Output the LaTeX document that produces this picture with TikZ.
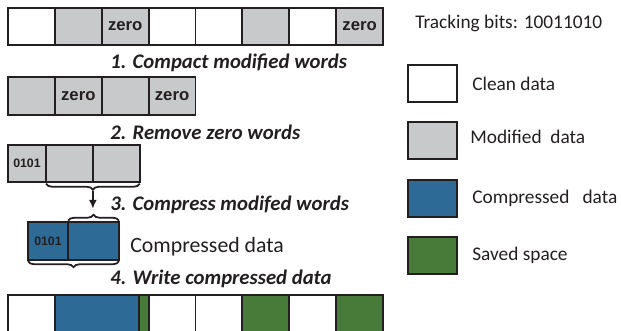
\documentclass[tikz,border=0pt]{standalone}
\usepackage{fontspec}
\setmainfont{Carlito}
\newfontfamily\cellfont{Liberation Sans}
\usepackage{tikz}
\usetikzlibrary{arrows.meta,calc,positioning,decorations.pathreplacing}
\definecolor{figline}{RGB}{35,31,32}
\definecolor{figmod}{RGB}{200,201,203}
\definecolor{figcomp}{RGB}{46,106,150}
\definecolor{figsaved}{RGB}{72,123,58}
\tikzset{
  cell/.style   ={draw=figline, line width=1.1pt, minimum width=0.9375cm, minimum height=0.75cm, inner sep=0pt, outer sep=0pt},
  cleanc/.style ={cell, fill=white},
  modc/.style   ={cell, fill=figmod},
  compc/.style  ={cell, fill=figcomp},
  savedc/.style ={cell, fill=figsaved},
  wordlab/.style={font=\cellfont\bfseries\fontsize{9.5}{11}\selectfont, text=figline},
  bitlab/.style ={font=\cellfont\bfseries\fontsize{7}{8}\selectfont, text=figline},
  steplab/.style={font=\bfseries\itshape\fontsize{11.8}{13}\selectfont, text=figline, anchor=west, inner sep=0pt},
  txt/.style    ={font=\fontsize{11}{13}\selectfont, text=figline, inner sep=0pt},
  brc/.style    ={draw=figline, line width=1pt, decorate, decoration={brace, amplitude=0.12cm, raise=0.03cm}},
  ptr/.style    ={draw=figline, line width=1pt, -{Latex[length=5pt,width=4.5pt]}},
}
\begin{document}
\begin{tikzpicture}
  \useasboundingbox (0,0) rectangle (12.42,6.62);
  % original line of words
  \node[cleanc, anchor=west] (r1a) at (0.16,6.09) {};
  \node[modc, right=0pt of r1a] (r1b) {};
  \node[modc, wordlab, right=0pt of r1b] (r1c) {zero};
  \node[cleanc, right=0pt of r1c] (r1d) {};
  \node[cleanc, right=0pt of r1d] (r1e) {};
  \node[modc, right=0pt of r1e] (r1f) {};
  \node[cleanc, right=0pt of r1f] (r1g) {};
  \node[modc, wordlab, right=0pt of r1g] (r1h) {zero};
  \node[steplab] (step1) at (2.2,5.36) {1. Compact modified words};
  % modified words only
  \node[modc, anchor=west] (r2a) at (0.16,4.70) {};
  \node[modc, wordlab, right=0pt of r2a] (r2b) {zero};
  \node[modc, right=0pt of r2b] (r2c) {};
  \node[modc, wordlab, right=0pt of r2c] (r2d) {zero};
  \node[steplab] (step2) at (2.2,3.98) {2. Remove zero words};
  % zero words removed
  \node[modc, bitlab, minimum width=0.76cm, anchor=west] (r3a) at (0.16,3.35) {0101};
  \node[modc, right=0pt of r3a] (r3b) {};
  \node[modc, right=0pt of r3b] (r3c) {};
  \draw[brc] (r3c.south east) -- (r3b.south west);
  \coordinate (tip3) at ($(r3b.south east)+(0,-0.17)$);
  \coordinate (arr3) at ($(tip3)+(0,-0.36)$);
  \draw[ptr] (tip3) -- (arr3);
  \node[steplab] (step3) at (2.2,2.52) {3. Compress modifed words};
  % compressed block
  \node[compc, bitlab, minimum width=0.80cm, anchor=west] (r4a) at (0.56,1.80) {0101};
  \node[compc, minimum width=1.02cm, right=0pt of r4a] (r4b) {};
  \draw[brc] (r4b.north west) -- (r4b.north east);
  \draw[brc] (r4b.south east) -- (r4a.south west);
  \node[txt, font=\fontsize{12.4}{14}\selectfont, anchor=west] (comptxt) at (2.6,1.68) {Compressed data};
  \node[steplab] (step4) at (2.2,1.04) {4. Write compressed data};
  % line written back
  \node[cleanc, anchor=west] (r5a) at (0.16,0.34) {};
  \node[compc, minimum width=1.6825cm, right=0pt of r5a] (r5b) {};
  \node[savedc, minimum width=0.1925cm, right=0pt of r5b] (r5c) {};
  \node[cleanc, right=0pt of r5c] (r5d) {};
  \node[cleanc, right=0pt of r5d] (r5e) {};
  \node[savedc, right=0pt of r5e] (r5f) {};
  \node[cleanc, right=0pt of r5f] (r5g) {};
  \node[savedc, right=0pt of r5g] (r5h) {};
  % legend
  \node[txt, anchor=west] (track) at (8.30,6.16) {Tracking bits: 10011010};
  \node[cleanc, minimum width=0.98cm, minimum height=0.74cm] (lgclean) at (8.65,4.95) {};
  \node[txt, right=0.3cm of lgclean] (lgcleant) {Clean data};
  \node[modc, minimum width=0.98cm, minimum height=0.74cm] (lgmod) at (8.65,3.81) {};
  \node[txt, right=0.26cm of lgmod, yshift=0.08cm] (lgmodt) {Modified~~data};
  \node[compc, minimum width=0.98cm, minimum height=0.74cm] (lgcomp) at (8.65,2.65) {};
  \node[txt, right=0.3cm of lgcomp] (lgcompt) {Compressed~~~data};
  \node[savedc, minimum width=0.98cm, minimum height=0.74cm] (lgsaved) at (8.65,1.51) {};
  \node[txt, right=0.3cm of lgsaved] (lgsavedt) {Saved space};
\end{tikzpicture}
\end{document}
